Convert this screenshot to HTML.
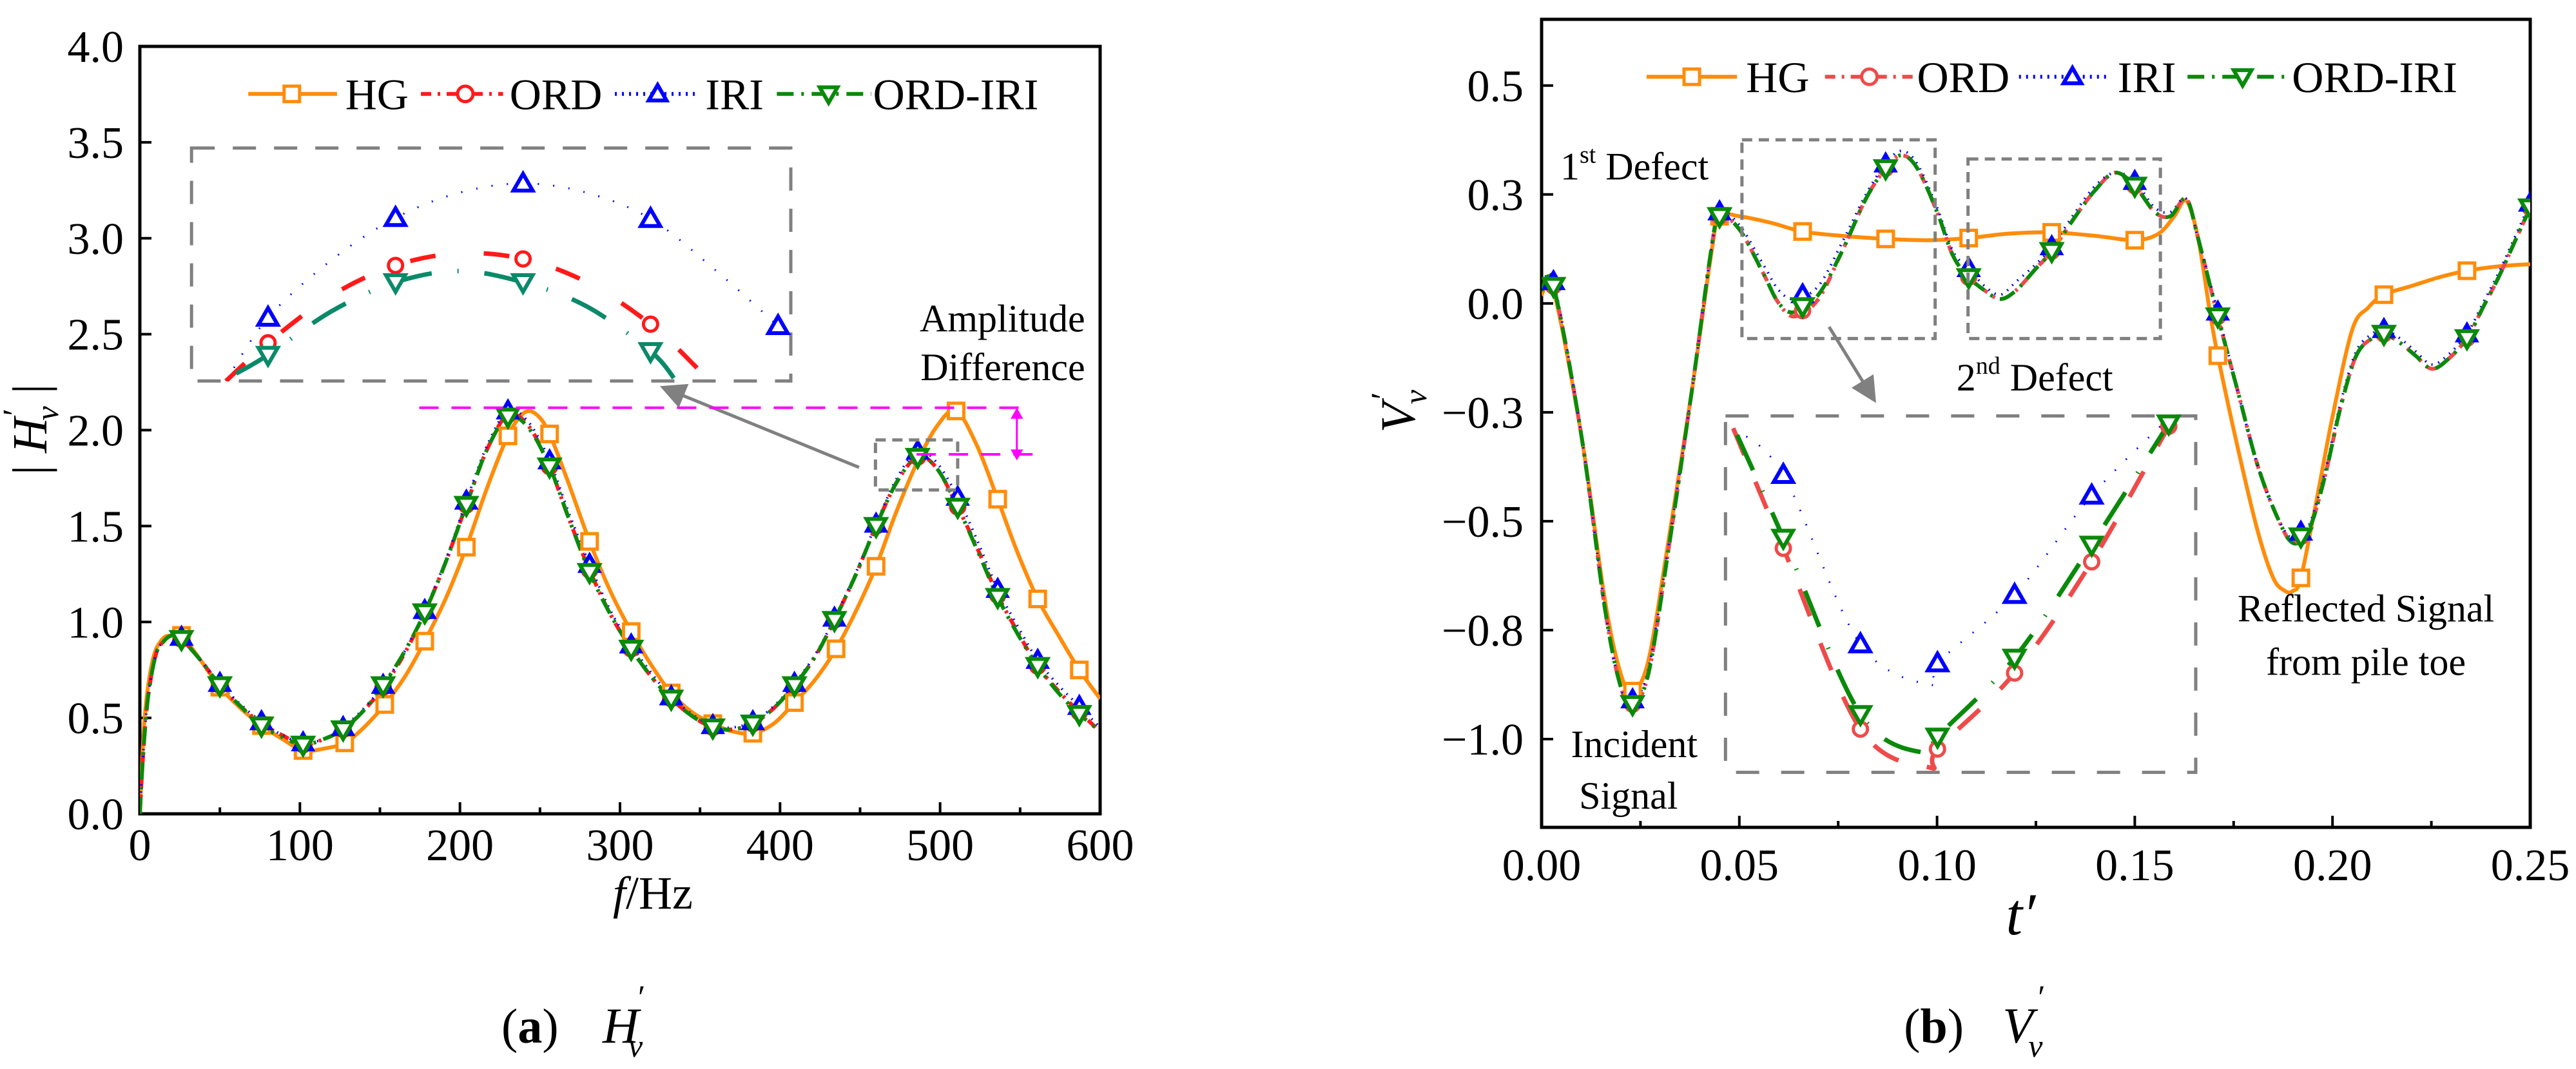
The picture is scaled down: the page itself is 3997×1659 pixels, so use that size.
<!DOCTYPE html>
<html><head><meta charset="utf-8">
<style>
html,body{margin:0;padding:0;background:#fff;}
svg{display:block;}
text{font-family:"Liberation Serif","Times New Roman",serif;fill:#000;}
</style></head>
<body>
<svg id="fig" width="3997" height="1659" viewBox="0 0 3997 1659" xmlns="http://www.w3.org/2000/svg" font-family="Liberation Serif, serif"></svg>
<script>
// ===== Panel (a) data =====
const hgF = [0,3,8,14,20,26,38,50,63,76,89,102,115,128,140,153,166,178,191,204,217,230,240,248,256,268,281,294,307,320,332,345,358,370,383,396,409,422,435,447,460,472,485,498,510,523,536,548,561,574,587,600];
const hgV = [0,0.5,0.8,0.91,0.93,0.93,0.8,0.66,0.55,0.46,0.39,0.33,0.34,0.37,0.45,0.57,0.72,0.9,1.12,1.39,1.7,1.97,2.09,2.08,1.98,1.72,1.42,1.16,0.95,0.77,0.63,0.53,0.47,0.43,0.42,0.47,0.58,0.7,0.86,1.05,1.29,1.56,1.82,2.02,2.1,1.92,1.64,1.37,1.12,0.93,0.75,0.6];
const hgMarkF = [26,50,76,102,128,153,178,204,230,256,281,307,332,358,383,409,435,460,510,536,561,587];
const oF = [0,2,5,10,15,20,25,38,50,63,76,89,102,115,127,140,152,165,178,191,204,217,230,243,256,268,281,294,307,320,332,345,358,370,383,396,409,422,434,447,460,473,486,498,511,524,536,549,561,574,587,600];
const ordV = [0,0.3,0.6,0.83,0.9,0.93,0.92,0.8,0.67,0.56,0.47,0.41,0.36,0.39,0.44,0.54,0.66,0.83,1.05,1.31,1.61,1.9,2.08,2.02,1.81,1.54,1.27,1.04,0.86,0.71,0.6,0.51,0.45,0.44,0.47,0.55,0.67,0.82,1.01,1.24,1.5,1.73,1.86,1.8,1.6,1.37,1.14,0.94,0.77,0.64,0.53,0.43];
const iriV = [0,0.3,0.6,0.83,0.9,0.93,0.93,0.8,0.68,0.57,0.48,0.41,0.37,0.39,0.45,0.55,0.67,0.84,1.06,1.32,1.63,1.92,2.1,2.04,1.84,1.57,1.3,1.06,0.88,0.73,0.61,0.52,0.46,0.45,0.48,0.56,0.68,0.83,1.02,1.25,1.51,1.75,1.89,1.83,1.65,1.41,1.17,0.97,0.8,0.67,0.56,0.45];
const oiV = [0,0.3,0.6,0.83,0.9,0.93,0.92,0.8,0.67,0.56,0.46,0.4,0.36,0.39,0.44,0.54,0.67,0.84,1.05,1.31,1.61,1.9,2.07,2.01,1.81,1.54,1.26,1.04,0.86,0.71,0.6,0.51,0.45,0.44,0.47,0.55,0.67,0.82,1.01,1.24,1.5,1.73,1.86,1.8,1.6,1.36,1.13,0.93,0.77,0.63,0.52,0.43];
const oMarkF = [26,50,76,102,127,152,178,204,230,256,281,307,332,358,383,409,434,460,486,511,536,561,587];
const aYTicks = [0,0.5,1,1.5,2,2.5,3,3.5,4];
const aYLabels = ["0.0","0.5","1.0","1.5","2.0","2.5","3.0","3.5","4.0"];
const aXTicks = [0,100,200,300,400,500,600];
const aXLabels = ["0","100","200","300","400","500","600"];
// inset (a): zoom on peak near 490 Hz
const inAF = [467.7,471,476,481,486,491,496,501,506,511,512];
const inABlue = [1.70,1.768,1.83,1.875,1.902,1.912,1.902,1.874,1.82,1.759,1.745];
const inARedF = [467.7,471,476,481,486,491,496,501,504.8];
const inARed = [1.70,1.741,1.792,1.824,1.837,1.831,1.806,1.761,1.712];
const inAGreenF = [468.5,471,476,481,486,491,496,501,503];
const inAGreen = [1.708,1.728,1.775,1.806,1.818,1.806,1.78,1.732,1.70];
const inAMarkF = [471,481,491,501,511];
const inAMarkBlue = [1.768,1.875,1.912,1.874,1.759];
const inAMarkRed = [1.741,1.824,1.831,1.761];
const inAMarkGreen = [1.728,1.806,1.806,1.732];

// ===== Panel (b) data =====
const hgT = [0,0.003,0.01,0.016,0.02,0.023,0.027,0.032,0.038,0.043,0.045,0.05,0.058,0.066,0.076,0.087,0.098,0.108,0.118,0.129,0.14,0.15,0.156,0.16,0.163,0.166,0.169,0.171,0.176,0.181,0.185,0.188,0.19,0.192,0.196,0.2,0.205,0.209,0.213,0.22,0.227,0.234,0.242,0.25];
const hgB = [0.02,0.03,-0.3,-0.68,-0.85,-0.89,-0.82,-0.55,-0.2,0.12,0.2,0.2,0.185,0.165,0.155,0.148,0.145,0.15,0.16,0.163,0.155,0.145,0.16,0.2,0.236,0.15,-0.02,-0.12,-0.33,-0.52,-0.63,-0.66,-0.66,-0.63,-0.45,-0.26,-0.06,-0.01,0.02,0.04,0.06,0.075,0.085,0.09];
const hgBMarkT = [0.023,0.045,0.066,0.087,0.108,0.129,0.150,0.171,0.192,0.213,0.234];
const oT = [0,0.003,0.01,0.016,0.02,0.023,0.027,0.032,0.038,0.043,0.045,0.05,0.056,0.06,0.064,0.07,0.076,0.082,0.087,0.091,0.095,0.1,0.104,0.108,0.112,0.116,0.12,0.125,0.129,0.135,0.14,0.145,0.15,0.155,0.159,0.163,0.166,0.171,0.176,0.181,0.186,0.19,0.194,0.198,0.202,0.206,0.21,0.213,0.217,0.221,0.225,0.229,0.234,0.238,0.242,0.246,0.25];
const ordB = [0.03,0.04,-0.3,-0.7,-0.88,-0.92,-0.85,-0.57,-0.2,0.13,0.2,0.17,0.07,0.0,-0.03,0.01,0.12,0.24,0.31,0.34,0.31,0.21,0.11,0.06,0.03,0.01,0.03,0.08,0.12,0.2,0.26,0.3,0.27,0.21,0.2,0.24,0.15,-0.03,-0.2,-0.37,-0.49,-0.55,-0.52,-0.4,-0.24,-0.12,-0.08,-0.07,-0.09,-0.12,-0.15,-0.13,-0.08,-0.01,0.06,0.14,0.22];
const iriB = [0.03,0.05,-0.3,-0.7,-0.88,-0.91,-0.84,-0.56,-0.2,0.13,0.21,0.18,0.09,0.03,0.01,0.04,0.14,0.25,0.32,0.35,0.32,0.22,0.12,0.08,0.04,0.02,0.05,0.09,0.13,0.21,0.27,0.3,0.28,0.22,0.21,0.24,0.15,-0.02,-0.2,-0.37,-0.49,-0.54,-0.51,-0.39,-0.23,-0.11,-0.07,-0.06,-0.08,-0.11,-0.14,-0.12,-0.07,0.0,0.07,0.15,0.23];
const oiB = [0.03,0.04,-0.3,-0.7,-0.88,-0.92,-0.85,-0.57,-0.2,0.13,0.2,0.17,0.07,0.0,-0.02,0.02,0.12,0.24,0.31,0.34,0.31,0.21,0.11,0.06,0.03,0.01,0.03,0.08,0.12,0.2,0.26,0.3,0.27,0.21,0.2,0.24,0.15,-0.03,-0.2,-0.37,-0.49,-0.55,-0.52,-0.4,-0.24,-0.12,-0.08,-0.07,-0.09,-0.12,-0.15,-0.13,-0.08,-0.01,0.06,0.14,0.22];
const oBMarkT = [0.003,0.023,0.045,0.066,0.087,0.108,0.129,0.150,0.171,0.192,0.213,0.234,0.25];
const bYTicks = [0.5,0.25,0,-0.25,-0.5,-0.75,-1.0];
const bYLabels = ["0.5","0.3","0.0","\u22120.3","\u22120.5","\u22120.8","\u22121.0"];
const bXTicks = [0,0.05,0.1,0.15,0.2,0.25];
const bXLabels = ["0.00","0.05","0.10","0.15","0.20","0.25"];
// inset (b): zoom on first trough
const inBT = [0.0587,0.060,0.062,0.0639,0.064,0.066,0.068,0.070];
const inBBlue = [0.0948,0.0752,0.0039,-0.0134,-0.0041,0.0247,0.0665,0.0991];
const inBRedT = [0.0587,0.060,0.062,0.0638,0.064,0.066,0.068,0.070];
const inBRed = [0.0948,0.0443,-0.0318,-0.048,-0.0402,-0.0082,0.0386,0.0957];
const inBGreenT = [0.0588,0.060,0.062,0.0637,0.064,0.066,0.068,0.070];
const inBGreen = [0.092,0.0487,-0.0255,-0.042,-0.035,-0.0018,0.0458,0.0968];
const inBMarkT = [0.060,0.062,0.064,0.066,0.068,0.070];
const inBMarkBlue = [0.0752,0.0039,-0.0041,0.0247,0.0665];
const inBMarkRed = [0.0443,-0.0318,-0.0402,-0.0082,0.0386,0.0957];
const inBMarkGreen = [0.0487,-0.0255,-0.035,-0.0018,0.0458,0.0968];

const NS="http://www.w3.org/2000/svg";
const svg=document.getElementById('fig');
function el(tag,attrs,parent){const e=document.createElementNS(NS,tag);for(const k in attrs)e.setAttribute(k,attrs[k]);(parent||svg).appendChild(e);return e;}
function txt(str,x,y,size,anchor,parent,extra){const t=el('text',Object.assign({x:x,y:y,'font-size':size,'text-anchor':anchor||'start','font-family':'Liberation Serif, serif'},extra||{}),parent);t.textContent=str;return t;}
const L=(x,y)=>[x*1.2755,y*1.0635];
const R=(x,y)=>[2000+x*1.2756,y*1.0635];

const A={x0:217,x1:1707,y0:1263,y1:72,d0:0,d1:600,v0:0,v1:4};
const ax=f=>A.x0+(f-A.d0)/(A.d1-A.d0)*(A.x1-A.x0);
const ay=v=>A.y0-(v-A.v0)/(A.v1-A.v0)*(A.y0-A.y1);
const B={x0:2392,x1:3926,y0:1284,y1:30,d0:0,d1:0.25,v0:-1.2027,v1:0.652};
const bx=t=>B.x0+(t-B.d0)/(B.d1-B.d0)*(B.x1-B.x0);
const by=v=>B.y0-(v-B.v0)/(B.v1-B.v0)*(B.y0-B.y1);

function interp(xs,ys,x){for(let i=0;i<xs.length-1;i++){if(x>=xs[i]&&x<=xs[i+1]){const r=(x-xs[i])/(xs[i+1]-xs[i]);return ys[i]+r*(ys[i+1]-ys[i]);}}return ys[ys.length-1];}
function smoothPath(pts){let d=`M${pts[0][0]},${pts[0][1]}`;for(let i=0;i<pts.length-1;i++){const p0=pts[i-1]||pts[i],p1=pts[i],p2=pts[i+1],p3=pts[i+2]||p2;const c1=[p1[0]+(p2[0]-p0[0])/6,p1[1]+(p2[1]-p0[1])/6];const c2=[p2[0]-(p3[0]-p1[0])/6,p2[1]-(p3[1]-p1[1])/6];d+=` C${c1[0]},${c1[1]} ${c2[0]},${c2[1]} ${p2[0]},${p2[1]}`;}return d;}
function marker(type,x,y,color,s,parent){s=s||13;let m;
 if(type==='sq')m=el('rect',{x:x-s,y:y-s,width:2*s,height:2*s,fill:'#fff',stroke:color,'stroke-width':5},parent);
 else if(type==='ci')m=el('circle',{cx:x,cy:y,r:s,fill:'#fff',stroke:color,'stroke-width':5},parent);
 else if(type==='tu')m=el('polygon',{points:`${x},${y-s*1.15} ${x-s*1.15},${y+s*0.85} ${x+s*1.15},${y+s*0.85}`,fill:'#fff',stroke:color,'stroke-width':6},parent);
 else m=el('polygon',{points:`${x},${y+s*1.15} ${x-s*1.15},${y-s*0.85} ${x+s*1.15},${y-s*0.85}`,fill:'#fff',stroke:color,'stroke-width':6},parent);
 return m;}

const C={hg:'#ff8c0a',ord:'#ff1a1a',iri:'#0000ff',oi:'#0a8a0a'};
const Cb={ord:'#ef4a4a'};
const dash={hg:'none',ord:'16 10 4 10',iri:'2 9',oi:'26 12 4 12'};

el('defs',{}).innerHTML='<clipPath id="clipA"><rect x="217" y="72" width="1490" height="1191"/></clipPath><clipPath id="clipB"><rect x="2392" y="30" width="1534" height="1254"/></clipPath>'+
 '<clipPath id="clipIA"><rect x="297" y="230" width="930" height="362"/></clipPath><clipPath id="clipIB"><rect x="2677" y="645" width="730" height="554"/></clipPath>'+
 '<marker id="arrG" markerWidth="8" markerHeight="8" refX="6" refY="4" orient="auto" markerUnits="strokeWidth"><path d="M0,0 L8,4 L0,8 Z" fill="#808080"/></marker>';

// ================= PANEL A =================
const gA=el('g',{});

const frameA=el('rect',{x:A.x0,y:A.y1,width:A.x1-A.x0,height:A.y0-A.y1,fill:'none',stroke:'#000','stroke-width':5},gA);

aYTicks.forEach((v,i)=>{const y=ay(v);
 if(i>0&&i<aYTicks.length-1)el('line',{x1:A.x0,x2:A.x0+18,y1:y,y2:y,stroke:'#000','stroke-width':4},gA);
 const t=txt(aYLabels[i],192,y+24,70,'end',gA);});
aXTicks.forEach((f,i)=>{const x=ax(f);
 if(i>0&&i<aXTicks.length-1)el('line',{x1:x,x2:x,y1:A.y0,y2:A.y0-18,stroke:'#000','stroke-width':4},gA);
 if(i<aXTicks.length-1)el('line',{x1:ax(f+50),x2:ax(f+50),y1:A.y0,y2:A.y0-10,stroke:'#000','stroke-width':4},gA);
 const t=txt(aXLabels[i],x,1335,70,'middle',gA);});
// y axis title a (rotated group)
const ytaG=el('g',{transform:`translate(72,${ay(2.0)}) rotate(-90)`},gA);

txt('|',-62,0,76,'middle',ytaG);
txt('H',-8,0,76,'middle',ytaG,{'font-style':'italic'});
txt('\u2032',28,-32,52,'middle',ytaG);
txt('v',26,18,50,'middle',ytaG,{'font-style':'italic'});
txt('|',64,0,76,'middle',ytaG);
const xta=el('text',{x:1013,y:1410,'font-size':72,'text-anchor':'middle','font-family':'Liberation Serif, serif'},gA);
xta.innerHTML='<tspan font-style="italic">f</tspan>/Hz';


const plotA=el('g',{'clip-path':'url(#clipA)'},gA);
function seriesA(fs,vs,color,d,name,w){const p=el('path',{d:smoothPath(fs.map((f,i)=>[ax(f),ay(vs[i])])),fill:'none',stroke:color,'stroke-width':w||6,'stroke-dasharray':d,'stroke-linecap':'butt'},plotA);}
seriesA(hgF,hgV,C.hg,dash.hg,'hg-line-a',6);
seriesA(oF,ordV,C.ord,dash.ord,'ord-line-a',6);
seriesA(oF,iriV,C.iri,dash.iri,'iri-line-a',4);
seriesA(oF,oiV,C.oi,dash.oi,'ord-iri-line-a',6);
hgMarkF.forEach(f=>{const m=marker('sq',ax(f),ay(interp(hgF,hgV,f)),C.hg,12,plotA);});
oMarkF.forEach(f=>{const m=marker('ci',ax(f),ay(interp(oF,ordV,f)),C.ord,11,plotA);});
oMarkF.forEach(f=>{const m=marker('tu',ax(f),ay(interp(oF,iriV,f)),C.iri,12,plotA);});
oMarkF.forEach(f=>{const m=marker('td',ax(f),ay(interp(oF,oiV,f)),C.oi,13,plotA);});

// inset A
const IA={x0:L(233,0)[0],x1:L(962,0)[0],y0:L(0,556)[1],y1:L(0,216)[1],d0:465,d1:512,v0:1.70,v1:1.95};
const iax=f=>IA.x0+(f-IA.d0)/(IA.d1-IA.d0)*(IA.x1-IA.x0);
const iay=v=>IA.y0-(v-IA.v0)/(IA.v1-IA.v0)*(IA.y0-IA.y1);
const insA=el('g',{},gA);
el('rect',{x:IA.x0,y:IA.y1,width:IA.x1-IA.x0,height:IA.y0-IA.y1,fill:'none',stroke:'#808080','stroke-width':5,'stroke-dasharray':'36 28'},insA);
const insAc=el('g',{'clip-path':'url(#clipIA)'},insA);
el('path',{d:smoothPath(inAF.map((f,i)=>[iax(f),iay(inABlue[i])])),fill:'none',stroke:C.iri,'stroke-width':3,'stroke-dasharray':'2 22'},insAc);
el('path',{d:smoothPath(inARedF.map((f,i)=>[iax(f),iay(inARed[i])])),fill:'none',stroke:C.ord,'stroke-width':7,'stroke-dasharray':'40 75'},insAc);
el('path',{d:smoothPath(inAGreenF.map((f,i)=>[iax(f),iay(inAGreen[i])])),fill:'none',stroke:'#0b8a6a','stroke-width':7,'stroke-dasharray':'60 40 2 40'},insAc);
inAMarkF.forEach((f,i)=>marker('tu',iax(f),iay(inAMarkBlue[i]),C.iri,13,insA));
inAMarkRed.forEach((v,i)=>marker('ci',iax(inAMarkF[i]),iay(v),C.ord,11,insA));
inAMarkGreen.forEach((v,i)=>marker('td',iax(inAMarkF[i]),iay(v),'#0b8a6a',13,insA));
let p1=L(1065,642),p2=L(1165,715);
el('rect',{x:p1[0],y:p1[1],width:p2[0]-p1[0],height:p2[1]-p1[1],fill:'none',stroke:'#808080','stroke-width':5,'stroke-dasharray':'16 10'},gA);
p1=L(1045,682);p2=L(810,567);
const arA=el('line',{x1:p1[0],y1:p1[1],x2:p2[0],y2:p2[1],stroke:'#808080','stroke-width':5,'marker-end':'url(#arrG)'},gA);

p1=L(510,595);p2=L(1250,595);
el('line',{x1:p1[0],y1:p1[1],x2:p2[0],y2:p2[1],stroke:'#ff00ff','stroke-width':4,'stroke-dasharray':'30 20'},gA);
p1=L(1115,663);p2=L(1262,663);
el('line',{x1:p1[0],y1:p1[1],x2:p2[0],y2:p2[1],stroke:'#ff00ff','stroke-width':4,'stroke-dasharray':'30 20'},gA);
p1=L(1237,605);p2=L(1237,660);
el('line',{x1:p1[0],y1:p1[1],x2:p2[0],y2:p2[1],stroke:'#ff00ff','stroke-width':3},gA);
el('path',{d:`M${L(1237,597)[0]-8},${L(1237,597)[1]+14} L${L(1237,597)[0]},${L(1237,597)[1]} L${L(1237,597)[0]+8},${L(1237,597)[1]+14} Z M${L(1237,670)[0]-8},${L(1237,670)[1]-14} L${L(1237,670)[0]},${L(1237,670)[1]} L${L(1237,670)[0]+8},${L(1237,670)[1]-14} Z`,fill:'#ff00ff',stroke:'#ff00ff','stroke-width':2},gA);
let tA=txt('Amplitude',L(1320,0)[0],L(0,484)[1],60,'end',gA);
tA=txt('Difference',L(1320,0)[0],L(0,555)[1],60,'end',gA);

function legend(P,items,y,parent,name){const g=el('g',{},parent);
 items.forEach(it=>{const a=P(it[0],y),b=P(it[1],y),m=P(it[2],y),t=P(it[3],y);
  el('line',{x1:a[0],y1:a[1],x2:b[0],y2:b[1],stroke:it[5],'stroke-width':6,'stroke-dasharray':it[6]},g);
  marker(it[7],m[0],m[1],it[5],12,g);
  const tx=txt(it[4],t[0],t[1]+24,68,'start',g);});}
legend(L,[[302,410,355,420,'HG',C.hg,'none','sq'],[512,612,566,620,'ORD',C.ord,'16 10 4 10','ci'],[748,850,800,858,'IRI',C.iri,'3 8','tu'],[945,1060,1008,1062,'ORD-IRI',C.oi,'26 12 4 12','td']],137,gA,'legend-a');

const capA=el('g',{},gA);
const ca=el('text',{x:778,y:1618,'font-size':76,'font-family':'Liberation Serif, serif'},capA);
ca.innerHTML='(<tspan font-weight="bold">a</tspan>)';
txt('H',935,1618,78,'start',capA,{'font-style':'italic'});
txt('\u2032',990,1565,52,'start',capA);
txt('v',975,1640,50,'start',capA,{'font-style':'italic'});

// ================= PANEL B =================
const gB=el('g',{});

const frameB=el('rect',{x:B.x0,y:B.y1,width:B.x1-B.x0,height:B.y0-B.y1,fill:'none',stroke:'#000','stroke-width':5},gB);

bYTicks.forEach((v,i)=>{const y=by(v);
 el('line',{x1:B.x0,x2:B.x0+18,y1:y,y2:y,stroke:'#000','stroke-width':4},gB);
 const t=txt(bYLabels[i],2364,y+24,70,'end',gB);});
bXTicks.forEach((tv,i)=>{const x=bx(tv);
 if(i>0&&i<bXTicks.length-1)el('line',{x1:x,x2:x,y1:B.y0,y2:B.y0-18,stroke:'#000','stroke-width':4},gB);
 if(i<bXTicks.length-1)el('line',{x1:bx(tv+0.025),x2:bx(tv+0.025),y1:B.y0,y2:B.y0-10,stroke:'#000','stroke-width':4},gB);
 const t=txt(bXLabels[i],x,1366,70,'middle',gB);});
const ytbG=el('g',{transform:`translate(2195,${R(0,600)[1]}) rotate(-90)`},gB);

txt('V',-10,0,76,'middle',ytbG,{'font-style':'italic'});
txt('\u2032',24,-32,52,'middle',ytbG);
txt('v',22,18,50,'middle',ytbG,{'font-style':'italic'});
const xtb=txt('t\u2032',R(890,0)[0],1450,92,'middle',gB,{'font-style':'italic'});


const plotB=el('g',{'clip-path':'url(#clipB)'},gB);
function seriesB(ts,vs,color,d,name,w){const p=el('path',{d:smoothPath(ts.map((t,i)=>[bx(t),by(vs[i])])),fill:'none',stroke:color,'stroke-width':w||6,'stroke-dasharray':d},plotB);}
seriesB(hgT,hgB,C.hg,'none','hg-line-b',6);
seriesB(oT,ordB,Cb.ord,'16 10 4 10','ord-line-b',6);
seriesB(oT,iriB,C.iri,'2 9','iri-line-b',4);
seriesB(oT,oiB,C.oi,'26 12 4 12','ord-iri-line-b',6);
hgBMarkT.forEach(t=>{const m=marker('sq',bx(t),by(interp(hgT,hgB,t)),C.hg,12,plotB);});
oBMarkT.forEach(t=>{const m=marker('ci',bx(t),by(interp(oT,ordB,t)),Cb.ord,11,plotB);});
oBMarkT.forEach(t=>{const m=marker('tu',bx(t),by(interp(oT,iriB,t)),C.iri,12,plotB);});
oBMarkT.forEach(t=>{const m=marker('td',bx(t),by(interp(oT,oiB,t)),C.oi,13,plotB);});

function dbox(a,b,name){const p=R(a[0],a[1]),q=R(b[0],b[1]);const r=el('rect',{x:p[0],y:p[1],width:q[0]-p[0],height:q[1]-p[1],fill:'none',stroke:'#808080','stroke-width':5,'stroke-dasharray':'16 10'},gB);}
dbox([551,204],[786,494],'first-defect-box');
dbox([826,232],[1060,494],'second-defect-box');
p1=R(657,477);p2=R(710,580);
el('line',{x1:p1[0],y1:p1[1],x2:p2[0],y2:p2[1],stroke:'#808080','stroke-width':5,'marker-end':'url(#arrG)'},gB);

const IB={x0:R(531,0)[0],x1:R(1103,0)[0],y0:R(0,1127)[1],y1:R(0,607)[1],d0:0.0585,d1:0.0707,v0:-0.05,v1:0.10};
const ibx=t=>IB.x0+(t-IB.d0)/(IB.d1-IB.d0)*(IB.x1-IB.x0);
const iby=v=>IB.y0-(v-IB.v0)/(IB.v1-IB.v0)*(IB.y0-IB.y1);
const insB=el('g',{},gB);
el('rect',{x:IB.x0,y:IB.y1,width:IB.x1-IB.x0,height:IB.y0-IB.y1,fill:'none',stroke:'#808080','stroke-width':5,'stroke-dasharray':'36 34'},insB);
const insBc=el('g',{'clip-path':'url(#clipIB)'},insB);
el('path',{d:smoothPath(inBT.map((t,i)=>[ibx(t),iby(inBBlue[i])])),fill:'none',stroke:C.iri,'stroke-width':3,'stroke-dasharray':'2 22'},insBc);
el('path',{d:smoothPath(inBRedT.map((t,i)=>[ibx(t),iby(inBRed[i])])),fill:'none',stroke:Cb.ord,'stroke-width':7,'stroke-dasharray':'45 45'},insBc);
el('path',{d:smoothPath(inBGreenT.map((t,i)=>[ibx(t),iby(inBGreen[i])])),fill:'none',stroke:C.oi,'stroke-width':7,'stroke-dasharray':'60 35 2 35'},insBc);
inBMarkBlue.forEach((v,i)=>marker('tu',ibx(inBMarkT[i]),iby(v),C.iri,13,insB));
inBMarkRed.forEach((v,i)=>marker('ci',ibx(inBMarkT[i]),iby(v),Cb.ord,11,insB));
inBMarkGreen.forEach((v,i)=>marker('td',ibx(inBMarkT[i]),iby(v),C.oi,13,insB));

let a=R(330,0);let tb=el('text',{x:a[0],y:R(0,262)[1],'font-size':60,'font-family':'Liberation Serif, serif'},gB);
tb.innerHTML='1<tspan font-size="38" dy="-26">st</tspan><tspan dy="26"> Defect</tspan>';
a=R(812,0);tb=el('text',{x:a[0],y:R(0,570)[1],'font-size':60,'font-family':'Liberation Serif, serif'},gB);
tb.innerHTML='2<tspan font-size="38" dy="-26">nd</tspan><tspan dy="26"> Defect</tspan>';
tb=txt('Incident',R(420,0)[0],R(0,1105)[1],60,'middle',gB);
tb=txt('Signal',R(413,0)[0],R(0,1180)[1],60,'middle',gB);
tb=txt('Reflected Signal',R(1310,0)[0],R(0,907)[1],60,'middle',gB);
tb=txt('from pile toe',R(1310,0)[0],R(0,985)[1],60,'middle',gB);

legend(R,[[435,545,490,556,'HG',C.hg,'none','sq'],[652,760,706,764,'ORD',Cb.ord,'16 10 4 10','ci'],[888,1000,953,1008,'IRI',C.iri,'3 8','tu'],[1093,1218,1160,1220,'ORD-IRI',C.oi,'26 12 4 12','td']],112,gB,'legend-b');

const capB=el('g',{},gB);
const cb=el('text',{x:R(748,0)[0],y:1618,'font-size':76,'font-family':'Liberation Serif, serif'},capB);
cb.innerHTML='(<tspan font-weight="bold">b</tspan>)';
txt('V',R(868,0)[0],1618,78,'start',capB,{'font-style':'italic'});
txt('\u2032',R(868,0)[0]+55,1565,52,'start',capB);
txt('v',R(868,0)[0]+40,1640,50,'start',capB,{'font-style':'italic'});
</script>
</body></html>
